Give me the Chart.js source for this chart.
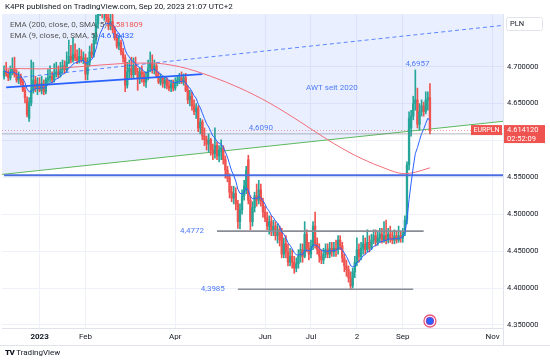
<!DOCTYPE html>
<html><head><meta charset="utf-8">
<script src="https://cdn.jsdelivr.net/npm/chart.js@4/dist/chart.umd.min.js"></script>
<style>
html,body{margin:0;padding:0;background:#fff;}
#wrap{position:relative;width:550px;height:364px;overflow:hidden;font-family:Roboto,"Liberation Sans",sans-serif;}
#wrap canvas{position:absolute;left:0;top:0;}
.t{position:absolute;white-space:nowrap;line-height:1;}
</style></head>
<body>
<div id="wrap">
<canvas id="c" width="550" height="364"></canvas>
<div class="t" style="left:5px;top:3px;font-size:8px;color:#131722;">K4PR published on TradingView.com, Sep 20, 2023 21:07 UTC+2</div>
<div class="t" style="left:10px;top:21px;font-size:8px;color:#555;">EMA (200, close, 0, SMA, 5) <span style="color:#ef5350">4.581809</span></div>
<div class="t" style="left:10px;top:32px;font-size:8px;color:#555;">EMA (9, close, 0, SMA, 5) <span style="color:#2962ff">4.618432</span></div>
<div class="t" style="left:5px;top:349px;font-size:8px;color:#131722;"><b style="font-weight:900;letter-spacing:-0.5px">TV</b> TradingView</div>
</div>
<script>
// ---------- data ----------
const firstCandleDate = '2022-12-08';
const opens = [
 4.687,4.694,4.690,4.685,4.693,4.697,4.689,4.682,4.687,4.679,4.668,4.655,4.630,4.651,4.668,4.682,4.671,
 4.677,4.668,4.677,4.666,4.682,4.685,4.687,4.682,4.690,4.693,4.689,4.696,4.701,4.696,4.706,4.714,4.709,4.717,4.712,4.709,4.714,4.709,
 4.712,4.690,4.706,4.720,4.716,4.736,4.758,4.777,4.788,4.774,4.782,4.766,4.755,4.761,4.750,4.739,4.728,4.733,4.720,4.712,
 4.675,4.693,4.698,4.689,4.702,4.693,4.685,4.693,4.690,4.679,4.685,4.698,4.704,4.696,4.701,4.687,4.679,4.685,4.677,4.682,4.674,4.671,4.677,
 4.671,4.677,4.682,4.685,4.679,4.685,4.668,4.655,4.660,4.647,4.639,4.644,4.617,4.625,4.606,4.601,4.595,4.601,4.587,4.582,
 4.593,4.579,4.587,4.590,4.574,4.560,4.549,4.530,4.522,4.528,4.514,4.490,4.506,4.525,4.533,4.574,4.519,4.490,4.509,4.525,4.519,4.533,4.517,
 4.503,4.495,4.484,4.490,4.476,4.484,4.471,4.479,4.476,4.446,4.460,4.449,4.435,4.443,4.435,4.427,4.433,4.443,4.452,4.443,4.473,4.454,
 4.446,4.457,4.484,4.460,4.452,4.443,4.438,4.446,4.452,4.446,4.454,4.449,4.454,4.452,4.465,4.457,4.441,4.430,4.425,4.414,4.403,
 4.422,4.435,4.452,4.443,4.454,4.460,4.452,4.462,4.454,4.465,4.471,4.462,4.468,4.473,4.465,4.471,4.465,4.473,4.468,4.465,4.471,4.465,4.471,
 4.468,4.476,4.492,4.567,4.617,4.633,4.650,4.655,4.622,4.639,4.647,4.639,4.655,4.658];
const highs = [
 4.701,4.706,4.696,4.701,4.712,4.713,4.696,4.693,4.690,4.683,4.674,4.659,4.658,4.709,4.706,4.687,4.685,
 4.685,4.687,4.682,4.685,4.696,4.701,4.693,4.704,4.706,4.701,4.706,4.709,4.708,4.720,4.736,4.729,4.739,4.731,4.723,4.725,4.723,4.720,
 4.717,4.712,4.728,4.731,4.744,4.770,4.790,4.811,4.804,4.801,4.796,4.780,4.774,4.771,4.755,4.744,4.742,4.736,4.725,4.716,
 4.706,4.709,4.713,4.712,4.713,4.698,4.698,4.701,4.693,4.693,4.709,4.720,4.716,4.709,4.704,4.693,4.690,4.687,4.687,4.685,4.682,4.682,4.682,
 4.685,4.687,4.691,4.693,4.690,4.691,4.674,4.668,4.666,4.655,4.650,4.647,4.630,4.628,4.617,4.606,4.609,4.603,4.595,4.617,
 4.598,4.593,4.601,4.593,4.579,4.565,4.555,4.538,4.538,4.536,4.519,4.514,4.533,4.546,4.565,4.580,4.525,4.517,4.530,4.541,4.546,4.541,4.522,
 4.511,4.503,4.498,4.498,4.492,4.490,4.487,4.484,4.481,4.468,4.471,4.460,4.454,4.452,4.443,4.441,4.452,4.460,4.460,4.490,4.479,4.462,
 4.465,4.490,4.503,4.468,4.460,4.452,4.454,4.460,4.460,4.462,4.462,4.462,4.465,4.471,4.471,4.462,4.446,4.438,4.430,4.422,4.427,
 4.443,4.468,4.460,4.462,4.471,4.468,4.479,4.471,4.473,4.479,4.479,4.476,4.481,4.481,4.490,4.492,4.481,4.484,4.476,4.479,4.476,4.484,4.476,
 4.481,4.498,4.571,4.639,4.641,4.660,4.6957,4.671,4.650,4.655,4.652,4.666,4.666,4.677];
const lows = [
 4.683,4.687,4.681,4.682,4.689,4.686,4.679,4.677,4.675,4.666,4.651,4.632,4.626,4.647,4.664,4.666,4.662,
 4.666,4.663,4.662,4.663,4.677,4.679,4.678,4.679,4.686,4.685,4.686,4.691,4.691,4.693,4.704,4.705,4.706,4.708,4.704,4.705,4.706,4.704,
 4.682,4.682,4.701,4.712,4.713,4.731,4.752,4.769,4.766,4.763,4.761,4.750,4.750,4.746,4.736,4.725,4.723,4.716,4.706,4.666,
 4.671,4.685,4.685,4.685,4.689,4.668,4.677,4.679,4.674,4.672,4.682,4.693,4.691,4.690,4.685,4.677,4.675,4.672,4.671,4.670,4.667,4.666,4.667,
 4.668,4.674,4.677,4.677,4.675,4.666,4.650,4.647,4.641,4.635,4.630,4.612,4.609,4.601,4.593,4.587,4.584,4.580,4.574,4.576,
 4.574,4.571,4.574,4.568,4.549,4.544,4.522,4.517,4.514,4.506,4.481,4.480,4.500,4.519,4.528,4.514,4.479,4.484,4.503,4.511,4.514,4.511,4.496,
 4.490,4.479,4.473,4.471,4.471,4.465,4.461,4.457,4.441,4.441,4.441,4.430,4.430,4.427,4.420,4.422,4.427,4.435,4.435,4.441,4.449,4.438,
 4.441,4.452,4.454,4.446,4.435,4.433,4.433,4.441,4.441,4.441,4.443,4.443,4.443,4.446,4.452,4.435,4.422,4.416,4.408,4.3985,4.400,
 4.414,4.430,4.435,4.438,4.446,4.446,4.449,4.449,4.452,4.460,4.457,4.458,4.462,4.461,4.462,4.460,4.461,4.462,4.460,4.460,4.461,4.462,4.462,
 4.462,4.471,4.487,4.560,4.606,4.628,4.641,4.617,4.614,4.633,4.633,4.636,4.641,4.609];
const closes = [
 4.694,4.690,4.685,4.693,4.697,4.689,4.682,4.687,4.679,4.668,4.658,4.635,4.651,4.668,4.682,4.671,4.677,
 4.668,4.677,4.666,4.682,4.685,4.687,4.682,4.690,4.693,4.689,4.696,4.701,4.696,4.706,4.714,4.709,4.717,4.712,4.709,4.714,4.709,4.712,
 4.690,4.706,4.720,4.716,4.736,4.758,4.777,4.788,4.774,4.782,4.766,4.755,4.761,4.750,4.739,4.728,4.733,4.720,4.712,4.675,
 4.693,4.698,4.689,4.702,4.693,4.685,4.693,4.690,4.679,4.685,4.698,4.704,4.696,4.701,4.687,4.679,4.685,4.677,4.682,4.674,4.671,4.677,4.671,
 4.677,4.682,4.685,4.679,4.685,4.668,4.655,4.660,4.647,4.639,4.644,4.617,4.625,4.606,4.601,4.595,4.601,4.587,4.582,4.593,
 4.579,4.587,4.590,4.574,4.560,4.549,4.530,4.522,4.528,4.514,4.490,4.506,4.525,4.538,4.560,4.519,4.490,4.509,4.525,4.519,4.533,4.517,4.503,
 4.495,4.484,4.490,4.476,4.484,4.471,4.479,4.465,4.446,4.460,4.449,4.435,4.443,4.435,4.427,4.433,4.443,4.452,4.443,4.473,4.454,4.446,
 4.457,4.484,4.460,4.452,4.443,4.438,4.446,4.452,4.446,4.454,4.449,4.454,4.452,4.465,4.457,4.441,4.430,4.425,4.414,4.403,4.422,
 4.435,4.452,4.443,4.454,4.460,4.452,4.462,4.454,4.465,4.471,4.462,4.468,4.473,4.465,4.471,4.465,4.473,4.468,4.465,4.471,4.465,4.471,4.468,
 4.476,4.492,4.567,4.630,4.633,4.650,4.655,4.622,4.639,4.647,4.639,4.655,4.658,4.61412];

// 200-period average (red), read at a few dates
const smaDates  = ['2022-12-08','2023-01-02','2023-01-27','2023-02-23','2023-03-16','2023-04-05','2023-04-26','2023-05-16','2023-06-05','2023-06-26','2023-07-13','2023-08-01','2023-08-17','2023-09-04','2023-09-11','2023-09-20'];
const smaValues = [4.698,4.697,4.700,4.704,4.705,4.700,4.687,4.671,4.651,4.625,4.601,4.580,4.565,4.555,4.557,4.563];

// drawn lines (date pairs, price pairs)
const channelLowDates = ['2022-12-07','2023-11-08'], channelLowValues = [4.554, 4.626];
const channelTopDates = ['2022-12-16','2023-11-08'], channelTopValues = [4.685, 4.756];
const trendDates = ['2022-12-09','2023-04-20'], trendValues = [4.672, 4.690];
const supportDates = ['2022-12-08','2023-11-08'], supportValues = [4.553, 4.553];
const levelDates = ['2022-12-07','2023-11-08'], levelValues = [4.609, 4.609];
const lvl1Dates = ['2023-05-01','2023-09-15'], lvl1Values = [4.4772, 4.4772];
const lvl2Dates = ['2023-05-15','2023-09-08'], lvl2Values = [4.3985, 4.3985];

// text notes
const noteTexts  = ['4,4772','4,3985','4,6957','4,6090','AWT seit 2020'];
const noteDates  = ['2023-04-13','2023-04-27','2023-09-12','2023-05-30','2023-07-17'];
const notePrices = [4.4772, 4.3985, 4.6957, 4.609, 4.671];

const tickDates = ['2023-01-02','2023-02-01','2023-04-03','2023-06-01','2023-07-03','2023-08-02','2023-09-01','2023-11-01'];
const tickTexts = ['2023','Feb','Apr','Jun','Jul','2','Sep','Nov'];
const priceTicks = [4.35,4.40,4.45,4.50,4.55,4.60,4.65,4.70];
const lastPrice = 4.61412;

// ---------- categories: trading days ----------
const dayLabels = [];
for (let d = new Date(Date.UTC(2022,11,7)); d <= new Date(Date.UTC(2023,10,8)); d.setUTCDate(d.getUTCDate()+1)) {
  const wd = d.getUTCDay(); if (wd === 0 || wd === 6) continue;
  dayLabels.push(d.toISOString().slice(0,10));
}
const start = dayLabels.indexOf(firstCandleDate);
const N = closes.length;
const align = fn => dayLabels.map((_, j) => { const k = j - start; return (k >= 0 && k < N) ? fn(k) : null; });
const UP = '#26a69a', DOWN = '#ef5350';
const colorOf = k => closes[k] >= opens[k] ? UP : DOWN;

// EMA 9 of closes
const ema = []; let e = null;
closes.forEach(c => { e = (e === null) ? c : e + (c - e) * 0.2; ema.push(e); });

const pts = (ds, vs) => ds.map((d, i) => ({x: d, y: vs[i]}));
const line = (ds, vs, o) => Object.assign({type:'line', data: pts(ds, vs), pointRadius:0, borderWidth:1, fill:false, tension:0}, o);

Chart.defaults.font.family = 'Roboto, "Liberation Sans", sans-serif';

const overlay = {
  id: 'overlay',
  beforeDatasetsDraw(chart) {
    const {ctx, chartArea: a, scales: {y}} = chart;
    const ly = Math.round(y.getPixelForValue(lastPrice)) + 0.5;
    ctx.save();
    ctx.strokeStyle = 'rgba(239,83,80,0.55)'; ctx.lineWidth = 1; ctx.setLineDash([1,2]);
    ctx.beginPath(); ctx.moveTo(a.left, ly); ctx.lineTo(a.right, ly); ctx.stroke();
    ctx.restore();
  },
  afterDraw(chart) {
    const {ctx, chartArea: a, scales: {x, y}} = chart;
    const xp = d => x.getPixelForValue(dayLabels.indexOf(d));
    ctx.save();
    // notes
    ctx.font = '8px Roboto, "Liberation Sans", sans-serif';
    ctx.fillStyle = '#4f7cf7'; ctx.textAlign = 'center';
    noteTexts.forEach((t, i) => {
      const px = xp(noteDates[i]), py = y.getPixelForValue(notePrices[i]);
      if (i === 2 || i === 3) { ctx.textBaseline = 'bottom'; ctx.fillText(t, px, py - 2); }
      else { ctx.textBaseline = 'middle'; ctx.fillText(t, px, py); }
    });
    // axis borders
    ctx.strokeStyle = '#e0e3eb'; ctx.lineWidth = 1;
    ctx.beginPath(); ctx.moveTo(a.right + 0.5, a.top); ctx.lineTo(a.right + 0.5, 345); ctx.stroke();
    ctx.beginPath(); ctx.moveTo(0, 345.5); ctx.lineTo(550, 345.5); ctx.stroke();
    // PLN box
    ctx.fillStyle = '#fff'; ctx.strokeStyle = '#e0e3eb';
    ctx.beginPath(); ctx.roundRect(506.5, 17.5, 36, 13, 2); ctx.fill(); ctx.stroke();
    ctx.fillStyle = '#131722'; ctx.textAlign = 'left'; ctx.textBaseline = 'middle';
    ctx.font = '7.5px Roboto, "Liberation Sans", sans-serif';
    ctx.fillText('PLN', 510, 24.5);
    // last price labels
    const ly = y.getPixelForValue(lastPrice);
    ctx.fillStyle = '#ef5350';
    ctx.fillRect(a.right - 32, ly - 5, 31, 10);
    ctx.fillRect(a.right + 1, ly - 5, 41, 18);
    ctx.fillStyle = '#fff'; ctx.textAlign = 'center';
    ctx.font = '7px Roboto, "Liberation Sans", sans-serif';
    ctx.fillText('EURPLN', a.right - 16.5, ly + 0.5);
    ctx.font = '7.5px Roboto, "Liberation Sans", sans-serif';
    ctx.textAlign = 'left';
    ctx.fillText(lastPrice.toFixed(6), a.right + 4, ly);
    ctx.fillText('02:52:09', a.right + 4, ly + 9);
    // marker
    const mx = xp('2023-09-20'), my = a.bottom - 7;
    ctx.beginPath(); ctx.arc(mx, my, 6, 0, Math.PI*2); ctx.fillStyle = '#fff'; ctx.fill();
    ctx.lineWidth = 1.3; ctx.strokeStyle = '#e8577a'; ctx.stroke();
    ctx.beginPath(); ctx.arc(mx, my, 3.8, 0, Math.PI*2); ctx.fillStyle = '#2962ff'; ctx.fill();
    ctx.lineWidth = 0.8; ctx.strokeStyle = '#9c27b0'; ctx.stroke();
    ctx.restore();
  }
};

new Chart(document.getElementById('c'), {
  type: 'bar',
  data: {
    labels: dayLabels,
    datasets: [
      line(channelLowDates, channelLowValues, {borderColor:'#5cb85c', fill:'end', backgroundColor:'rgba(41,98,255,0.10)', order:100}),
      {type:'bar', data: align(k => [lows[k], highs[k]]), backgroundColor: align(colorOf), barThickness: 1, grouped:false, order:30},
      {type:'bar', data: align(k => [opens[k], closes[k]]), backgroundColor: align(colorOf), barThickness: 1.7, grouped:false, order:29},
      line(levelDates, levelValues, {borderColor:'rgba(120,123,134,0.55)', order:12}),
      line(supportDates, supportValues, {borderColor:'#4a6ee0', borderWidth:2, order:11}),
      line(lvl1Dates, lvl1Values, {borderColor:'#8a8d96', borderWidth:1.6, order:10}),
      line(lvl2Dates, lvl2Values, {borderColor:'#8a8d96', borderWidth:1.6, order:9}),
      line(channelTopDates, channelTopValues, {borderColor:'rgba(41,98,255,0.75)', borderDash:[4,3], order:8}),
      line(trendDates, trendValues, {borderColor:'#2962ff', borderWidth:1.8, order:7}),
      line(smaDates, smaValues, {borderColor:'#f26d78', tension:0.4, cubicInterpolationMode:'monotone', order:3}),
      {type:'line', data: align(k => ema[k]), borderColor:'#2962ff', borderWidth:1, pointRadius:0, fill:false, order:2}
    ]
  },
  options: {
    animation: false, responsive: false, devicePixelRatio: 1,
    layout: {padding: {top: 14, left: 2, right: 0, bottom: 19}},
    plugins: {legend: {display:false}, tooltip: {enabled:false}},
    scales: {
      x: {
        type: 'category', offset: false,
        grid: {color:'#eef1f8', offset:false, drawTicks:false},
        border: {color:'#e0e3eb'},
        afterBuildTicks: s => { s.ticks = s.ticks.filter(t => tickDates.includes(dayLabels[t.value])); },
        afterFit: s => { s.height = 17; },
        ticks: {
          autoSkip:false, maxRotation:0, padding:4, color:'#131722',
          font: c => ({size:8, weight: (c.tick && tickDates.indexOf(dayLabels[c.tick.value]) === 0) ? 'bold' : 'normal'}),
          callback: function(v) { return tickTexts[tickDates.indexOf(dayLabels[v])]; }
        }
      },
      y: {
        position: 'right', min: 4.3459, max: 4.7714,
        grid: {color:'#eef1f8', drawTicks:false},
        border: {color:'#e0e3eb'},
        afterBuildTicks: s => { s.ticks = priceTicks.map(v => ({value:v})); },
        afterFit: s => { s.width = 47; },
        ticks: {padding:4, color:'#131722', font:{size:7.5}, callback: v => v.toFixed(6)}
      }
    }
  },
  plugins: [overlay]
});
</script>
</body></html>
